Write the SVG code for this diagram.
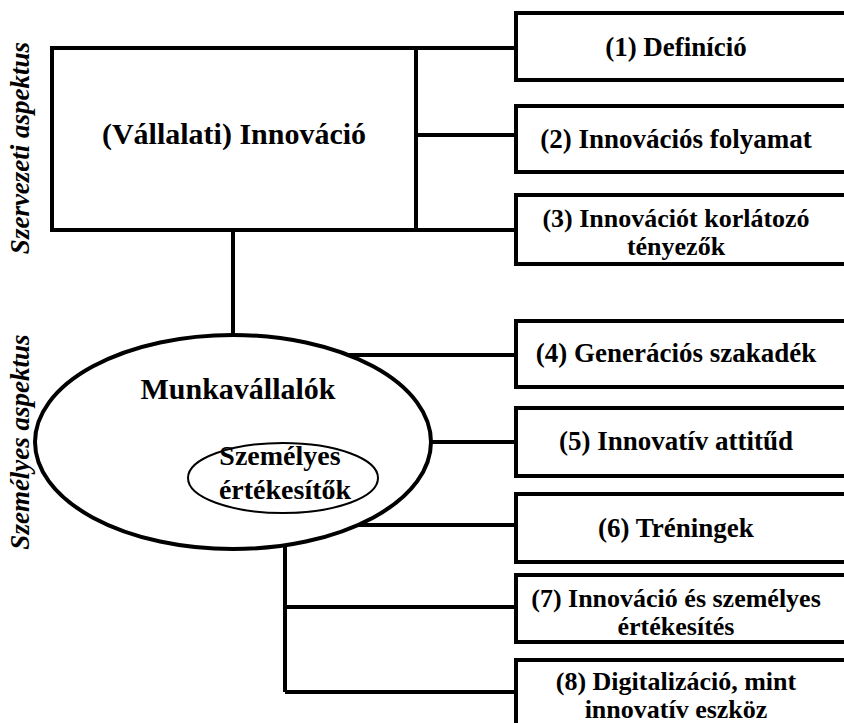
<svg xmlns="http://www.w3.org/2000/svg" width="844" height="723" viewBox="0 0 844 723">
<style>
.box{fill:#fff;stroke:#000;stroke-width:4}
.ln{fill:none;stroke:#000;stroke-width:4}
text{font-family:'Liberation Serif','Times New Roman','DejaVu Serif',serif;fill:#000}
.t{font-weight:bold;font-size:27px;text-anchor:middle}
.t2{font-weight:bold;font-size:26px;text-anchor:middle}
.side{font-weight:bold;font-style:italic;font-size:27px;text-anchor:middle}
</style>
<rect width="844" height="723" fill="#fff"/>
<g id="connectors">
<path class="ln" d="M416 48H516M416 135H516M416 230H516M233 230V335M348 355H516M432 442H516M359 525H516M285 512V692M285 607H516M285 692H516"/>
</g>
<g id="side-labels">
<text class="side" transform="translate(29,148) rotate(-90)">Szervezeti aspektus</text>
<text class="side" transform="translate(29,442) rotate(-90)">Személyes aspektus</text>
</g>
<g id="n-innovacio">
<rect class="box" x="52" y="48" width="364" height="182"/>
<text class="t" x="234" y="144" style="font-size:30px">(Vállalati) Innováció</text>
</g>
<g id="n-munkavallalok">
<ellipse cx="233" cy="442" rx="198" ry="107" fill="#fff" stroke="#000" stroke-width="4"/>
<text class="t" x="238" y="399" style="font-size:30px">Munkavállalók</text>
</g>
<g id="n-szemelyes">
<ellipse cx="283" cy="478" rx="95" ry="35" fill="#fff" stroke="#000" stroke-width="2"/>
<text class="t" x="280" y="465" style="font-size:28px">Személyes</text>
<text class="t" x="285" y="499" style="font-size:28px">értékesítők</text>
</g>
<g id="n1"><rect class="box" x="516" y="13" width="340" height="67"/><text class="t" x="676" y="56">(1) Definíció</text></g>
<g id="n2"><rect class="box" x="516" y="106" width="340" height="66"/><text class="t" x="676" y="148">(2) Innovációs folyamat</text></g>
<g id="n3"><rect class="box" x="516" y="195" width="340" height="69"/><text class="t2" x="676" y="227">(3) Innovációt korlátozó</text><text class="t2" x="676" y="255">tényezők</text></g>
<g id="n4"><rect class="box" x="516" y="321" width="340" height="66"/><text class="t" x="676" y="362">(4) Generációs szakadék</text></g>
<g id="n5"><rect class="box" x="516" y="408" width="340" height="68"/><text class="t" x="676" y="450">(5) Innovatív attitűd</text></g>
<g id="n6"><rect class="box" x="516" y="494" width="340" height="68"/><text class="t" x="676" y="537">(6) Tréningek</text></g>
<g id="n7"><rect class="box" x="516" y="575" width="340" height="67"/><text class="t2" x="676" y="607">(7) Innováció és személyes</text><text class="t2" x="676" y="635">értékesítés</text></g>
<g id="n8"><rect class="box" x="516" y="660" width="340" height="80"/><text class="t2" x="676" y="690">(8) Digitalizáció, mint</text><text class="t2" x="676" y="718">innovatív eszköz</text></g>
</svg>
